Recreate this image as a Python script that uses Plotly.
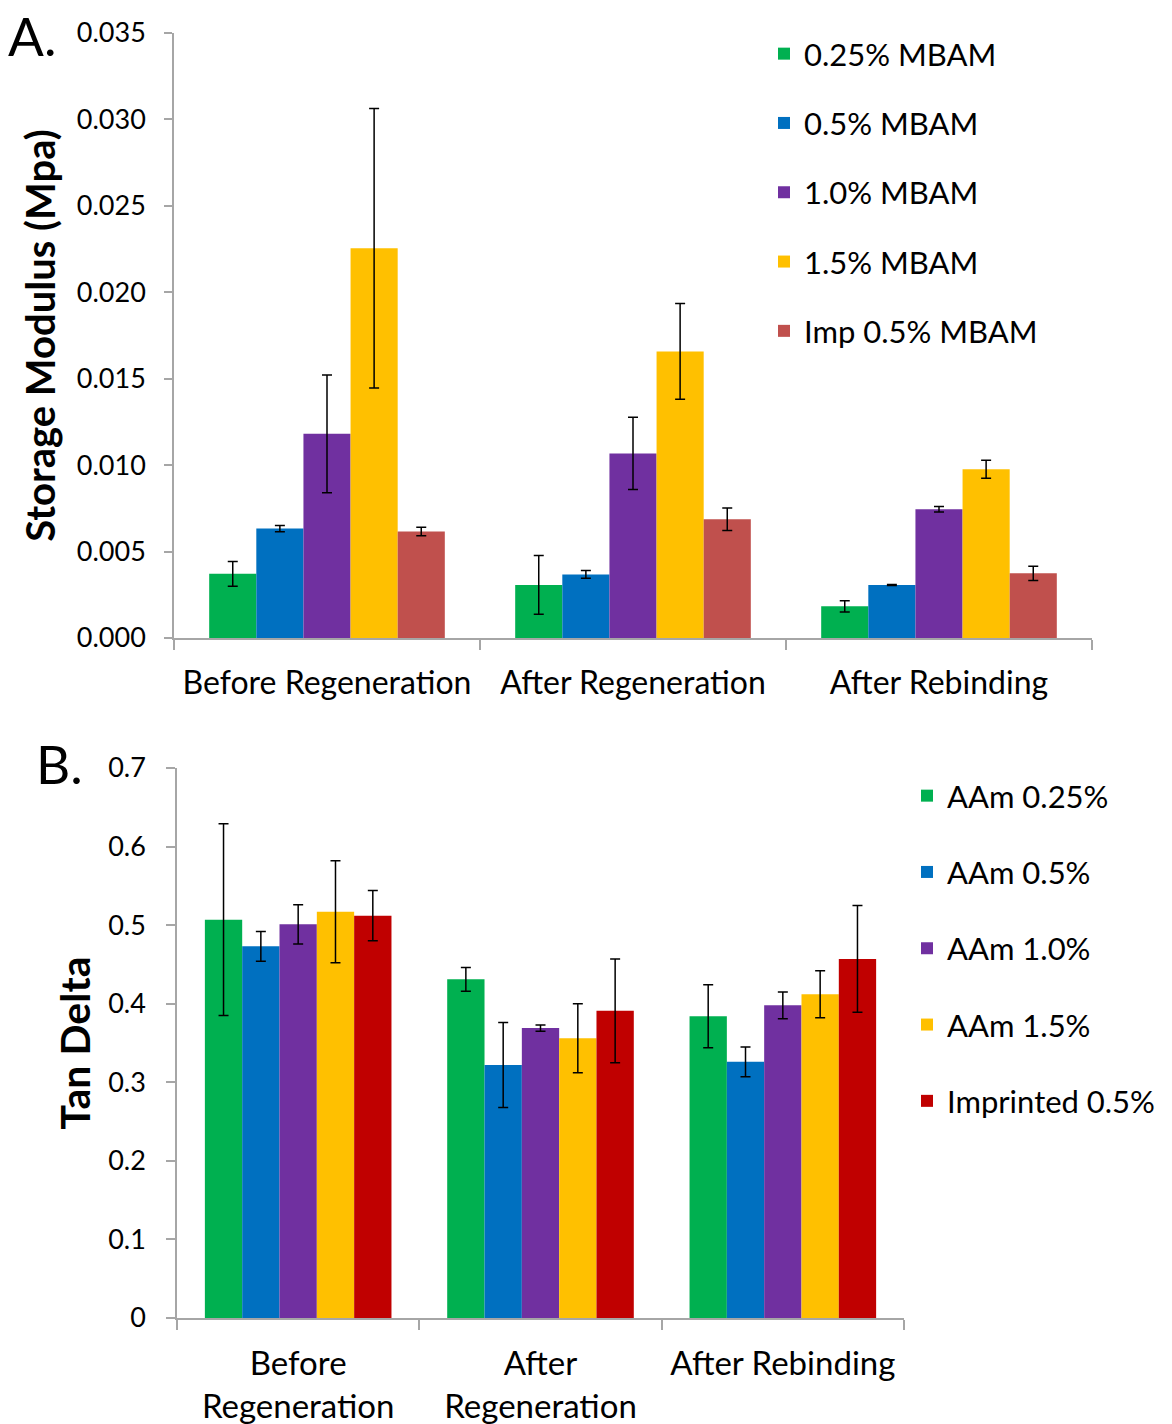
import plotly.graph_objects as go

# Categories
stages_a = ["Before Regeneration", "After Regeneration", "After Rebinding"]
stages_b = ["Before<br>Regeneration", "After<br>Regeneration", "After Rebinding"]

# Panel A: storage modulus (MPa), mean and standard deviation
names_a = ["0.25% MBAM", "0.5% MBAM", "1.0% MBAM", "1.5% MBAM", "Imp 0.5% MBAM"]
mbam_025 = [0.00371, 0.00307, 0.00183]
mbam_025_err = [0.00071, 0.00170, 0.00032]
mbam_05 = [0.00633, 0.00368, 0.00307]
mbam_05_err = [0.00018, 0.00022, 0.00003]
mbam_10 = [0.01181, 0.01068, 0.00745]
mbam_10_err = [0.00341, 0.00209, 0.00016]
mbam_15 = [0.02255, 0.01658, 0.00976]
mbam_15_err = [0.00808, 0.00277, 0.00052]
imp_mbam_05 = [0.00616, 0.00687, 0.00374]
imp_mbam_05_err = [0.00025, 0.00065, 0.00041]

# Panel B: tan delta, mean and standard deviation
names_b = ["AAm 0.25%", "AAm 0.5%", "AAm 1.0%", "AAm 1.5%", "Imprinted 0.5%"]
aam_025 = [0.507, 0.431, 0.384]
aam_025_err = [0.122, 0.015, 0.040]
aam_05 = [0.473, 0.322, 0.326]
aam_05_err = [0.019, 0.054, 0.019]
aam_10 = [0.501, 0.369, 0.398]
aam_10_err = [0.025, 0.004, 0.017]
aam_15 = [0.517, 0.356, 0.412]
aam_15_err = [0.065, 0.044, 0.030]
imp_05 = [0.512, 0.391, 0.457]
imp_05_err = [0.032, 0.066, 0.068]

colors_a = ["#00B050", "#0070C0", "#7030A0", "#FFC000", "#C0504D"]
colors_b = ["#00B050", "#0070C0", "#7030A0", "#FFC000", "#C00000"]

FONT = "Lato"
AXIS_GREY = "#A6A6A6"

series_a = [
    (mbam_025, mbam_025_err), (mbam_05, mbam_05_err), (mbam_10, mbam_10_err),
    (mbam_15, mbam_15_err), (imp_mbam_05, imp_mbam_05_err),
]
series_b = [
    (aam_025, aam_025_err), (aam_05, aam_05_err), (aam_10, aam_10_err),
    (aam_15, aam_15_err), (imp_05, imp_05_err),
]

fig = go.Figure()

for i, ((vals, errs), name, col) in enumerate(zip(series_a, names_a, colors_a)):
    fig.add_trace(go.Bar(
        x=stages_a, y=vals, name=name, marker=dict(color=col, line=dict(width=0)),
        error_y=dict(type="data", array=errs, visible=True, color="black",
                     thickness=1.5, width=5),
        xaxis="x", yaxis="y", legend="legend", legendgroup=f"a{i}",
    ))

for i, ((vals, errs), name, col) in enumerate(zip(series_b, names_b, colors_b)):
    fig.add_trace(go.Bar(
        x=stages_b, y=vals, name=name, marker=dict(color=col, line=dict(width=0)),
        error_y=dict(type="data", array=errs, visible=True, color="black",
                     thickness=1.5, width=5),
        xaxis="x2", yaxis="y2", legend="legend2", legendgroup=f"b{i}",
    ))

W, H = 1172, 1424

axis_common = dict(
    showline=True, linecolor=AXIS_GREY, linewidth=1.5,
    ticks="outside", tickcolor=AXIS_GREY, tickwidth=1.5,
    showgrid=False, zeroline=False, automargin=False,
)

fig.update_layout(
    width=W, height=H,
    margin=dict(l=0, r=0, t=0, b=0),
    paper_bgcolor="white", plot_bgcolor="white",
    font=dict(family=FONT, color="black"),
    barmode="group", bargap=0.23, bargroupgap=0,
    xaxis=dict(
        domain=[174 / W, 1092 / W], anchor="y", type="category",
        tickson="boundaries", ticklen=10, ticklabelstandoff=16, tickangle=0,
        tickfont=dict(size=32), **axis_common,
    ),
    yaxis=dict(
        domain=[1 - 638 / H, 1 - 33 / H], anchor="x",
        range=[0, 0.035], dtick=0.005, tickformat=".3f",
        ticklen=8, ticklabelstandoff=13, tickfont=dict(size=27),
        title=dict(text="<b>Storage Modulus (Mpa)</b>", font=dict(size=40), standoff=9),
        **axis_common,
    ),
    xaxis2=dict(
        domain=[177 / W, 904 / W], anchor="y2", type="category",
        tickson="boundaries", ticklen=10, ticklabelstandoff=16, tickangle=0,
        tickfont=dict(size=33), **axis_common,
    ),
    yaxis2=dict(
        domain=[1 - 1318 / H, 1 - 768 / H], anchor="x2",
        range=[0, 0.7], dtick=0.1, tickformat="~g",
        ticklen=9, ticklabelstandoff=15, tickfont=dict(size=27),
        title=dict(text="<b>Tan Delta</b>", font=dict(size=41), standoff=5),
        **axis_common,
    ),
    legend=dict(
        x=764 / W, y=1 - 27 / H, xanchor="left", yanchor="top",
        font=dict(size=31), tracegroupgap=26, bgcolor="rgba(0,0,0,0)",
        traceorder="grouped",
    ),
    legend2=dict(
        x=907 / W, y=1 - 769 / H, xanchor="left", yanchor="top",
        font=dict(size=31), tracegroupgap=33, bgcolor="rgba(0,0,0,0)",
        traceorder="grouped",
    ),
    annotations=[
        dict(text="A.", x=6 / W, y=1 - 2 / H, xref="paper", yref="paper",
             xanchor="left", yanchor="top", showarrow=False, font=dict(size=53)),
        dict(text="B.", x=34 / W, y=1 - 730 / H, xref="paper", yref="paper",
             xanchor="left", yanchor="top", showarrow=False, font=dict(size=53)),
    ],
)

fig.write_html("out.html")
